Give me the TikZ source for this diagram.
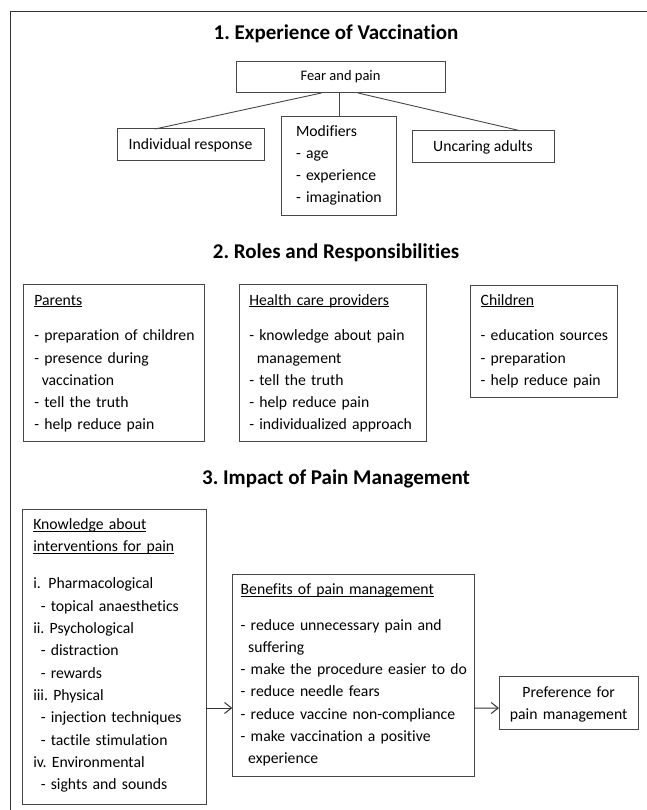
\documentclass[tikz,border=0pt]{standalone}
\usepackage{fontspec}
\setmainfont[Ligatures=NoCommon]{Carlito}
\usetikzlibrary{arrows.meta,calc}
\newcommand\ulh[1]{\leavevmode\setbox0\hbox{#1}\rlap{\rule[-2.2pt]{\wd0}{0.9pt}}\box0}
\newcommand\ind{\hspace*{7.5pt}}
\begin{document}
\frenchspacing
\begin{tikzpicture}[x=1pt,y=-1pt,
  frame/.style={draw=black!80, line width=1.3pt},
  box/.style={draw=black!72, line width=1pt, inner sep=0pt, outer sep=0pt},
  conn/.style={draw=black!72, line width=0.9pt},
  arr/.style={draw=black!80, line width=1pt, -{Straight Barb[length=7pt,width=11pt]}},
  title/.style={inner sep=0pt, anchor=base, text=black, font=\fontsize{21pt}{25pt}\selectfont\bfseries\frenchspacing},
  body/.style={inner sep=0pt, outer sep=0pt, text=black, anchor=base west, text width=240pt, align=left, font=\fontsize{15.7pt}{22.3pt}\selectfont\frenchspacing},
  one/.style={inner sep=0pt, outer sep=0pt, text=black, anchor=base, font=\fontsize{15.7pt}{22.3pt}\selectfont}
]
\useasboundingbox (0,0) rectangle (646,810);
% outer frame (open at right and bottom)
\draw[frame] (10.5,815) -- (10.5,11.7) -- (652,11.7);

% titles
\node[title] (t1) at (336,39.3) {1. Experience of Vaccination};
\node[title] (t2) at (336,258.3) {2. Roles and Responsibilities};
\node[title] (t3) at (336,484) {3. Impact of Pain Management};

% section 1
\node[box, minimum width=209pt, minimum height=31pt] (fear) at (340.5,77.5) {};
\node[box, minimum width=147pt, minimum height=32pt] (indiv) at (190.5,145) {};
\node[box, minimum width=115pt, minimum height=99pt] (modif) at (339.2,166.2) {};
\node[box, minimum width=142pt, minimum height=32pt] (uncar) at (483,146.7) {};

\node[one, font=\fontsize{14.5pt}{17pt}\selectfont] (fearT) at (340.5,81) {Fear and pain};
\node[one] (indivT) at (190.5,150) {Individual response};
\node[one] (uncarT) at (483,151.7) {Uncaring adults};
\node[body, font=\fontsize{15.7pt}{22pt}\selectfont] (modifT) at (296,136.7) {Modifiers\\- age\\- experience\\- imagination};

\draw[conn] ([xshift=-19pt]fear.south) -- ([xshift=-35.5pt]indiv.north);
\draw[conn] (fear.south -| modif.north) -- (modif.north);
\draw[conn] ([xshift=17.5pt]fear.south) -- ([xshift=37pt]uncar.north);

% section 2
\node[box, minimum width=180.7pt, minimum height=157.4pt] (par) at (113.65,363) {};
\node[box, minimum width=187.4pt, minimum height=157.4pt] (hcp) at (333,363) {};
\node[box, minimum width=147pt, minimum height=112.7pt] (chi) at (544.2,341.35) {};

\node[body] (parT) at (34.3,305) {\ulh{Parents}\\[13.4pt]- preparation of children\\- presence during\\\ind vaccination\\- tell the truth\\- help reduce pain};
\node[body] (hcpT) at (249.3,305) {\ulh{Health care providers}\\[13.4pt]- knowledge about pain\\\ind management\\- tell the truth\\- help reduce pain\\- individualized approach};
\node[body] (chiT) at (480.7,305) {\ulh{Children}\\[13.4pt]- education sources\\- preparation\\- help reduce pain};

% section 3
\node[box, minimum width=183.7pt, minimum height=295pt] (know) at (114.15,656.5) {};
\node[box, minimum width=241.7pt, minimum height=202pt] (ben) at (353.15,675) {};
\node[box, minimum width=139.3pt, minimum height=53.3pt] (pref) at (568.65,702.65) {};

\node[body] (knowT) at (33.3,529.3) {\ulh{Knowledge about}\\\ulh{interventions for pain}\\[15pt]\makebox[15.2pt][l]{i.}Pharmacological\\\ind - topical anaesthetics\\ii. Psychological\\\ind - distraction\\\ind - rewards\\iii. Physical\\\ind - injection techniques\\\ind - tactile stimulation\\iv. Environmental\\\ind - sights and sounds};
\node[body] (benT) at (240.7,594.3) {\ulh{Benefits of pain management}\\[13.4pt]- reduce unnecessary pain and\\\ind suffering\\- make the procedure easier to do\\- reduce needle fears\\- reduce vaccine non-compliance\\- make vaccination a positive\\\ind experience};
\node[body, text width=139pt, align=center, anchor=base] (prefT) at (568.65,697) {Preference for\\pain management};

\draw[arr] ([yshift=-51.5pt]know.east) -- ([yshift=-33pt]ben.west);
\draw[arr] ([yshift=-33pt]ben.east) -- ([yshift=-5.4pt]pref.west);
\end{tikzpicture}
\end{document}
